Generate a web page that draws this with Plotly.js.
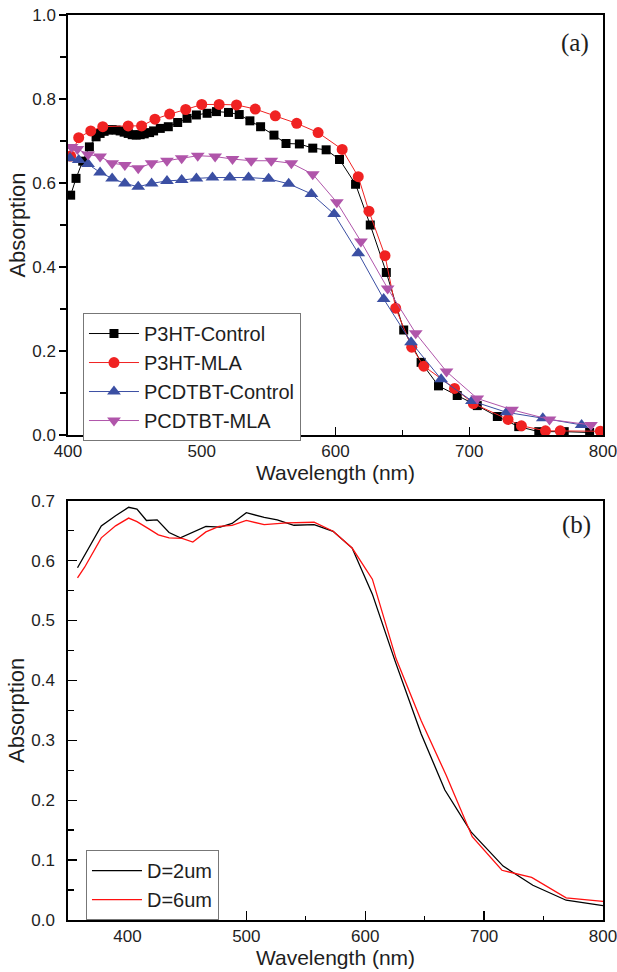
<!DOCTYPE html>
<html>
<head>
<meta charset="utf-8">
<script src="https://cdn.plot.ly/plotly-3.0.1.min.js"></script>
<style>html,body{margin:0;padding:0;background:#fff;}#chart{width:617px;height:972px;}</style>
</head>
<body>
<div id="chart"></div>
<script>
// ---------- Panel (a) data ----------
const p3htCtrlX = [402, 406, 411, 416, 421, 424, 427, 430, 433, 436, 439, 442, 445, 448, 451, 454, 457, 461, 464, 469, 475, 482, 489, 496, 504, 511, 520, 528, 536, 544, 554, 563, 573, 583, 593, 603, 615, 626, 638, 651, 664, 677, 691, 706, 721, 737, 752, 771, 790];
const p3htCtrlY = [0.571, 0.611, 0.652, 0.686, 0.710, 0.718, 0.723, 0.726, 0.727, 0.726, 0.724, 0.721, 0.718, 0.715, 0.714, 0.715, 0.717, 0.720, 0.724, 0.730, 0.734, 0.744, 0.754, 0.762, 0.766, 0.770, 0.768, 0.763, 0.748, 0.734, 0.714, 0.694, 0.693, 0.683, 0.679, 0.656, 0.597, 0.500, 0.387, 0.250, 0.173, 0.117, 0.094, 0.070, 0.044, 0.020, 0.008, 0.008, 0.006];

const p3htMlaX = [402, 408, 417, 426, 445, 455, 465, 476, 488, 500, 513, 526, 540, 555, 571, 587, 605, 617, 625, 637, 645, 657, 666, 689, 703, 729, 739, 757, 768, 798];
const p3htMlaY = [0.664, 0.708, 0.724, 0.734, 0.736, 0.736, 0.752, 0.764, 0.775, 0.787, 0.787, 0.786, 0.776, 0.760, 0.742, 0.720, 0.680, 0.615, 0.533, 0.427, 0.302, 0.209, 0.164, 0.111, 0.075, 0.037, 0.022, 0.010, 0.010, 0.009];

const pcdCtrlX = [401.5, 408, 415, 424, 433, 442.5, 452.5, 462.5, 474, 485, 496, 508, 521, 535, 550, 565, 582, 599, 617, 636, 656.5, 679, 702, 728, 755, 784];
const pcdCtrlY = [0.659, 0.655, 0.645, 0.625, 0.611, 0.599, 0.591, 0.599, 0.605, 0.607, 0.611, 0.613, 0.613, 0.613, 0.610, 0.598, 0.574, 0.526, 0.433, 0.324, 0.221, 0.133, 0.081, 0.054, 0.040, 0.024];

const pcdMlaX = [402.7, 407, 415, 424, 433, 442.5, 452.5, 462.5, 474, 485, 497, 510, 523, 537, 552, 567, 583, 601, 619, 639, 660, 683, 706, 732, 760, 791];
const pcdMlaY = [0.686, 0.681, 0.668, 0.663, 0.647, 0.643, 0.635, 0.647, 0.653, 0.659, 0.665, 0.663, 0.657, 0.653, 0.653, 0.647, 0.621, 0.554, 0.461, 0.349, 0.242, 0.151, 0.087, 0.060, 0.037, 0.024];

// ---------- Panel (b) data ----------
const d2X = [358, 368, 378, 390, 401, 408, 416, 425, 435, 444.5, 456, 466, 478, 488, 500, 515, 526, 540, 557, 573, 589, 606, 625, 647, 667, 689, 716, 741, 769, 800];
const d2Y = [0.588, 0.623, 0.658, 0.675, 0.689, 0.686, 0.667, 0.668, 0.647, 0.638, 0.648, 0.657, 0.656, 0.662, 0.680, 0.672, 0.668, 0.659, 0.660, 0.649, 0.621, 0.544, 0.433, 0.311, 0.217, 0.147, 0.090, 0.058, 0.033, 0.024];

const d6X = [358, 364, 378, 390, 401, 408, 418, 426, 435, 446, 455, 466, 477, 488, 500, 515, 534, 557, 573, 589, 606, 626, 647, 668, 690, 715, 740, 769, 800];
const d6Y = [0.571, 0.589, 0.638, 0.658, 0.671, 0.665, 0.653, 0.643, 0.638, 0.637, 0.631, 0.648, 0.657, 0.659, 0.667, 0.660, 0.663, 0.664, 0.649, 0.621, 0.569, 0.436, 0.333, 0.242, 0.139, 0.083, 0.071, 0.037, 0.031];

// ---------- Labels ----------
const namesA = ['P3HT-Control', 'P3HT-MLA', 'PCDTBT-Control', 'PCDTBT-MLA'];
const namesB = ['D=2um', 'D=6um'];
const xTitle = 'Wavelength (nm)';
const yTitle = 'Absorption';
const panelLabels = ['(a)', '(b)'];
const xTicksA = [400, 500, 600, 700, 800];
const xTicksB = [400, 500, 600, 700, 800];
const xTopMinorB = [450, 550, 650, 750];

const SANS = '"Liberation Sans", Arial, sans-serif';
const SERIF = '"Liberation Serif", "Times New Roman", serif';
const TXT = '#1e1e1e';

function mk(x, y, name, color, symbol, size) {
  return {
    x: x, y: y, name: name, type: 'scatter', mode: 'lines+markers',
    xaxis: 'x', yaxis: 'y', legend: 'legend',
    line: {color: color, width: 1},
    marker: {color: color, symbol: symbol, size: size, line: {width: 0}}
  };
}

const traces = [
  mk(p3htCtrlX, p3htCtrlY, namesA[0], '#000000', 'square', 9),
  mk(p3htMlaX, p3htMlaY, namesA[1], '#f02222', 'circle', 11),
  mk(pcdCtrlX, pcdCtrlY, namesA[2], '#3b4fa3', 'triangle-up', 12),
  mk(pcdMlaX, pcdMlaY, namesA[3], '#b055aa', 'triangle-down', 12),
  {x: d2X, y: d2Y, name: namesB[0], type: 'scatter', mode: 'lines', xaxis: 'x2', yaxis: 'y2', legend: 'legend2', line: {color: '#000000', width: 1.3}},
  {x: d6X, y: d6Y, name: namesB[1], type: 'scatter', mode: 'lines', xaxis: 'x2', yaxis: 'y2', legend: 'legend2', line: {color: '#ff1010', width: 1.3}}
];

const axBase = {
  showline: true, linecolor: '#000', linewidth: 1.6, mirror: true,
  showgrid: false, zeroline: false, automargin: false,
  tickcolor: '#000', tickwidth: 1.4, ticklabeloverflow: 'allow',
  tickfont: {family: SANS, size: 17, color: TXT}
};

const layout = {
  width: 617, height: 972,
  margin: {l: 68, r: 14, t: 15, b: 52},
  paper_bgcolor: '#fff', plot_bgcolor: '#fff',
  font: {family: SANS, size: 17, color: TXT},
  showlegend: true,
  xaxis: Object.assign({}, axBase, {
    domain: [0, 1], anchor: 'y', range: [400, 800],
    tickvals: xTicksA, ticks: 'inside', ticklen: 8,
    minor: {dtick: 50, tick0: 400, ticks: 'inside', ticklen: 5, tickwidth: 1.4, tickcolor: '#000'},
    title: {text: xTitle, font: {family: SANS, size: 21, color: TXT}, standoff: 2}
  }),
  yaxis: Object.assign({}, axBase, {
    domain: [0.5359, 1], anchor: 'x', range: [0, 1],
    dtick: 0.2, tick0: 0, tickformat: '.1f', ticks: 'outside', ticklen: 7,
    minor: {dtick: 0.1, tick0: 0, ticks: 'outside', ticklen: 6, tickwidth: 1.4, tickcolor: '#000'},
    title: {text: yTitle, font: {family: SANS, size: 22, color: TXT}, standoff: 0}
  }),
  xaxis2: Object.assign({}, axBase, {
    domain: [0, 1], anchor: 'y2', range: [350, 800],
    tickvals: xTicksB, ticks: 'inside', ticklen: 9,
    minor: {dtick: 50, tick0: 350, ticks: 'inside', ticklen: 4, tickwidth: 1.4, tickcolor: '#000'},
    title: {text: xTitle, font: {family: SANS, size: 21, color: TXT}, standoff: 2}
  }),
  yaxis2: Object.assign({}, axBase, {
    domain: [0, 0.4633], anchor: 'x2', range: [0, 0.7],
    dtick: 0.1, tick0: 0, tickformat: '.1f', ticks: 'inside', ticklen: 9,
    ticklabelstandoff: 8,
    minor: {dtick: 0.05, tick0: 0, ticks: 'inside', ticklen: 6, tickwidth: 1.4, tickcolor: '#000'},
    title: {text: yTitle, font: {family: SANS, size: 22, color: TXT}, standoff: 0}
  }),
  xaxis3: {
    overlaying: 'x2', anchor: 'y2', side: 'top', range: [350, 800],
    tickvals: xTopMinorB, ticks: 'inside', ticklen: 4, tickwidth: 1.4, tickcolor: '#000',
    showticklabels: false, showline: false, showgrid: false, zeroline: false, automargin: false
  },
  legend: {
    x: 0.028, y: 0.6707, xanchor: 'left', yanchor: 'top',
    bgcolor: '#fff', bordercolor: '#777', borderwidth: 1, itemwidth: 50,
    font: {family: SANS, size: 20, color: TXT}, tracegroupgap: 0
  },
  legend2: {
    x: 0.0336, y: 0.0773, xanchor: 'left', yanchor: 'top',
    bgcolor: '#fff', bordercolor: '#777', borderwidth: 1, itemwidth: 50,
    font: {family: SANS, size: 20, color: TXT}, tracegroupgap: 0
  },
  annotations: [
    {text: panelLabels[0], xref: 'paper', yref: 'paper', x: 0.948, y: 0.969, xanchor: 'center', yanchor: 'middle', showarrow: false, font: {family: SERIF, size: 25, color: TXT}},
    {text: panelLabels[1], xref: 'paper', yref: 'paper', x: 0.951, y: 0.4365, xanchor: 'center', yanchor: 'middle', showarrow: false, font: {family: SERIF, size: 25, color: TXT}}
  ]
};

Plotly.newPlot('chart', traces, layout, {staticPlot: true, displayModeBar: false});
</script>
</body>
</html>
